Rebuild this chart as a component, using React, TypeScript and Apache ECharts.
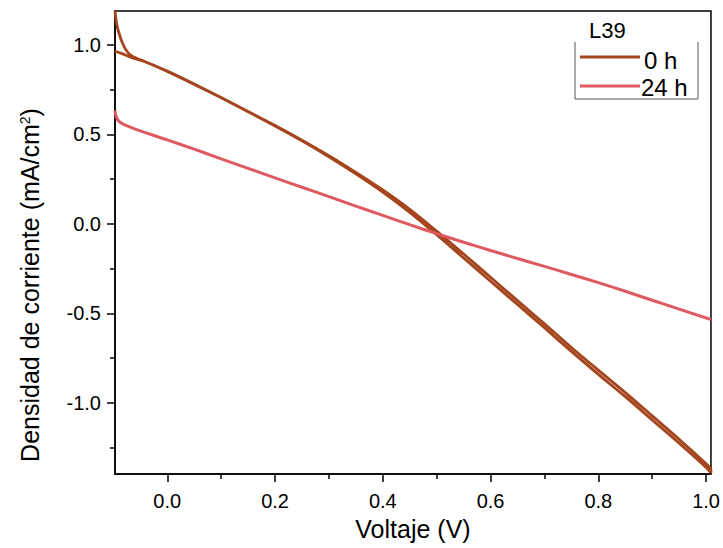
import React, { useEffect, useRef } from "react";
import * as echarts from "echarts";

// 0 h : forward scan (with start-up spike) then return scan
const h0Forward: [number, number][] = [
  [-0.097, 1.19], [-0.094, 1.12], [-0.09, 1.07], [-0.083, 1.01], [-0.075, 0.965],
  [-0.065, 0.937], [-0.04, 0.905], [0.0, 0.852], [0.05, 0.78], [0.1, 0.705],
  [0.15, 0.627], [0.2, 0.548], [0.25, 0.465], [0.3, 0.376], [0.35, 0.28],
  [0.4, 0.178], [0.45, 0.065], [0.5, -0.06], [0.55, -0.19], [0.6, -0.32],
  [0.65, -0.45], [0.7, -0.58], [0.75, -0.712], [0.8, -0.84], [0.85, -0.965],
  [0.9, -1.095], [0.95, -1.225], [1.0, -1.36], [1.009, -1.39],
];
const h0Return: [number, number][] = [
  [1.009, -1.375], [1.0, -1.34], [0.95, -1.203], [0.9, -1.072], [0.85, -0.942],
  [0.8, -0.817], [0.75, -0.69], [0.7, -0.558], [0.65, -0.428], [0.6, -0.298],
  [0.55, -0.168], [0.5, -0.04], [0.45, 0.082], [0.4, 0.19], [0.35, 0.288],
  [0.3, 0.381], [0.25, 0.468], [0.2, 0.55], [0.15, 0.629], [0.1, 0.707],
  [0.05, 0.782], [0.0, 0.854], [-0.04, 0.905], [-0.066, 0.929], [-0.085, 0.953],
  [-0.097, 0.965],
];
const h24: [number, number][] = [
  [-0.097, 0.635], [-0.095, 0.6], [-0.09, 0.575], [-0.08, 0.555], [-0.05, 0.52],
  [0.0, 0.47], [0.05, 0.418], [0.1, 0.364], [0.15, 0.311], [0.2, 0.258],
  [0.25, 0.205], [0.3, 0.153], [0.35, 0.1], [0.4, 0.048], [0.45, -0.004],
  [0.5, -0.054], [0.55, -0.102], [0.6, -0.148], [0.65, -0.193], [0.7, -0.237],
  [0.75, -0.282], [0.8, -0.328], [0.85, -0.376], [0.9, -0.426], [0.95, -0.476],
  [1.009, -0.534],
];

const xMajor = [0, 0.2, 0.4, 0.6, 0.8, 1.0];
const xMinor = [0.1, 0.3, 0.5, 0.7, 0.9];
const yMajor = [-1.0, -0.5, 0.0, 0.5, 1.0];
const yMinor = [-1.25, -0.75, -0.25, 0.25, 0.75];

const seriesNames = ["0 h", "24 h"];
const legendTitle = "L39";
const xName = "Voltaje (V)";

const X_MIN = -0.097;
const X_MAX = 1.009;
const Y_MIN = -1.397;
const Y_MAX = 1.19;

const BROWN = "#A5451E";
const PINK = "#DE5960";
const FONT = "'Liberation Sans', Arial, sans-serif";

export default function App() {
  const ref = useRef<HTMLDivElement>(null);
  useEffect(() => {
    if (!ref.current) return;
    const chart = echarts.init(ref.current, undefined, { renderer: "svg" });
    const axisLine = { show: true, onZero: false, lineStyle: { color: "#000", width: 1.5 } };
    const noLine = { show: false, onZero: false };
    const tickStyle = { color: "#000", width: 1.5 };
    const labelStyle = { fontSize: 20, color: "#000", fontFamily: FONT };
    chart.setOption({
      animation: false,
      backgroundColor: "#fff",
      grid: {
        left: 115, top: 11, right: 11, bottom: 74,
        show: true, borderColor: "#000", borderWidth: 1.5,
      },
      xAxis: [
        {
          type: "value", min: X_MIN, max: X_MAX, position: "bottom",
          axisLine,
          axisTick: { show: true, length: 8, lineStyle: tickStyle, customValues: xMajor },
          axisLabel: {
            ...labelStyle, margin: 17, customValues: xMajor,
            formatter: (v: number) => v.toFixed(1),
          },
          splitLine: { show: false },
          name: xName, nameLocation: "middle", nameGap: 42,
          nameTextStyle: { fontSize: 25, color: "#000", fontFamily: FONT },
        },
        {
          type: "value", min: X_MIN, max: X_MAX, position: "bottom",
          axisLine: noLine,
          axisTick: { show: true, length: 5, lineStyle: tickStyle, customValues: xMinor },
          axisLabel: { show: false },
          splitLine: { show: false },
        },
      ],
      yAxis: [
        {
          type: "value", min: Y_MIN, max: Y_MAX, position: "left",
          axisLine,
          axisTick: { show: true, length: 8, lineStyle: tickStyle, customValues: yMajor },
          axisLabel: {
            ...labelStyle, margin: 14, customValues: yMajor,
            formatter: (v: number) => v.toFixed(1),
          },
          splitLine: { show: false },
        },
        {
          type: "value", min: Y_MIN, max: Y_MAX, position: "left",
          axisLine: noLine,
          axisTick: { show: true, length: 5, lineStyle: tickStyle, customValues: yMinor },
          axisLabel: { show: false },
          splitLine: { show: false },
        },
      ],
      series: [
        {
          name: seriesNames[0], type: "line", xAxisIndex: 0, yAxisIndex: 0,
          data: [...h0Forward, ...h0Return], showSymbol: false, symbol: "none",
          smooth: 0.3, lineStyle: { color: BROWN, width: 2.8 }, itemStyle: { color: BROWN },
        },
        {
          name: seriesNames[1], type: "line", xAxisIndex: 0, yAxisIndex: 0,
          data: h24, showSymbol: false, symbol: "none",
          smooth: 0.3, lineStyle: { color: PINK, width: 3 }, itemStyle: { color: PINK },
        },
      ],
      graphic: [
        {
          type: "text", x: 30, y: 285, rotation: Math.PI / 2,
          style: {
            text: "Densidad de corriente (mA/cm{sup|2})",
            fontSize: 25, fill: "#000", fontFamily: FONT,
            align: "center", verticalAlign: "middle",
            rich: { sup: { fontSize: 14, verticalAlign: "top", padding: [0, 0, 11, 0], fontFamily: FONT, fill: "#000" } },
          },
        },
        {
          type: "polyline",
          shape: { points: [[575, 42], [575, 99], [698, 99], [698, 42]] },
          style: { stroke: "#555", lineWidth: 1, fill: "none" },
        },
        {
          type: "text", x: 589, y: 30,
          style: { text: legendTitle, fontSize: 22, fill: "#000", fontFamily: FONT, verticalAlign: "middle" },
        },
        {
          type: "line", shape: { x1: 580, y1: 57, x2: 640, y2: 57 },
          style: { stroke: BROWN, lineWidth: 3 },
        },
        {
          type: "text", x: 644, y: 60,
          style: { text: seriesNames[0], fontSize: 24, fill: "#000", fontFamily: FONT, verticalAlign: "middle" },
        },
        {
          type: "line", shape: { x1: 580, y1: 86, x2: 640, y2: 86 },
          style: { stroke: PINK, lineWidth: 3 },
        },
        {
          type: "text", x: 641, y: 87,
          style: { text: seriesNames[1], fontSize: 24, fill: "#000", fontFamily: FONT, verticalAlign: "middle" },
        },
      ],
    });
    return () => chart.dispose();
  }, []);
  return (
    <div
      ref={ref}
      style={{ position: "fixed", left: 0, top: 0, width: 723, height: 548 }}
    />
  );
}
